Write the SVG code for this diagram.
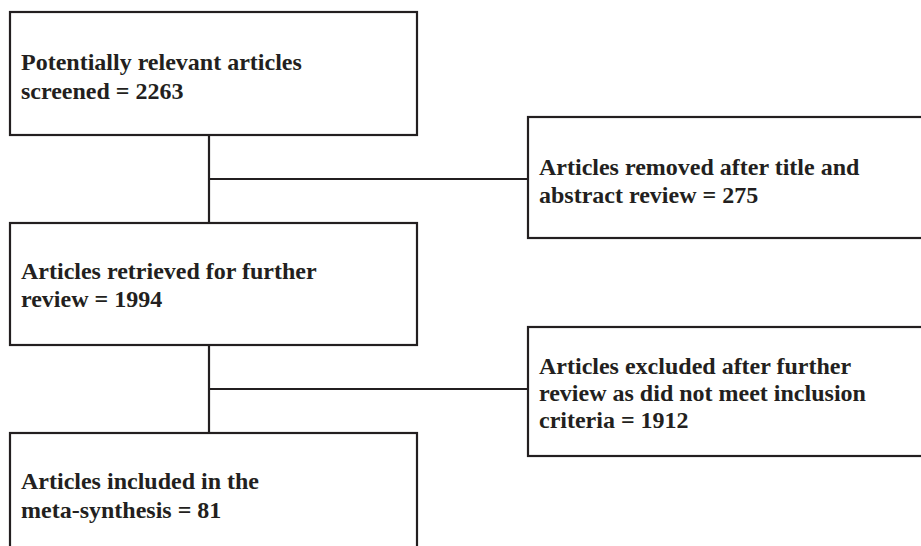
<svg xmlns="http://www.w3.org/2000/svg" width="921" height="546" viewBox="0 0 921 546">
<style>
.box{fill:#fff;stroke:#231f20;stroke-width:2.2}
.conn{fill:none;stroke:#231f20;stroke-width:2.2}
text{font-family:"Liberation Serif","Times New Roman",serif;font-weight:bold;font-size:24px;fill:#231f20}
</style>
<rect width="921" height="546" fill="#fff"/>
<g id="connectors">
<path class="conn" d="M209,135 V223 M209,179 H528"/>
<path class="conn" d="M209,345 V433 M209,389 H528"/>
</g>
<g id="screened">
<rect class="box" x="10" y="12" width="407" height="123"/>
<text x="21" y="70">Potentially relevant articles</text>
<text x="21" y="99">screened = 2263</text>
</g>
<g id="removed">
<rect class="box" x="528" y="117" width="400" height="121"/>
<text x="539" y="175">Articles removed after title and</text>
<text x="539" y="203">abstract review = 275</text>
</g>
<g id="retrieved">
<rect class="box" x="10" y="223" width="407" height="122"/>
<text x="21" y="279">Articles retrieved for further</text>
<text x="21" y="307">review = 1994</text>
</g>
<g id="excluded">
<rect class="box" x="528" y="327" width="400" height="129"/>
<text x="539" y="374">Articles excluded after further</text>
<text x="539" y="401">review as did not meet inclusion</text>
<text x="539" y="428">criteria = 1912</text>
</g>
<g id="included">
<rect class="box" x="10" y="433" width="407" height="130"/>
<text x="21" y="489">Articles included in the</text>
<text x="21" y="518">meta-synthesis = 81</text>
</g>
</svg>
